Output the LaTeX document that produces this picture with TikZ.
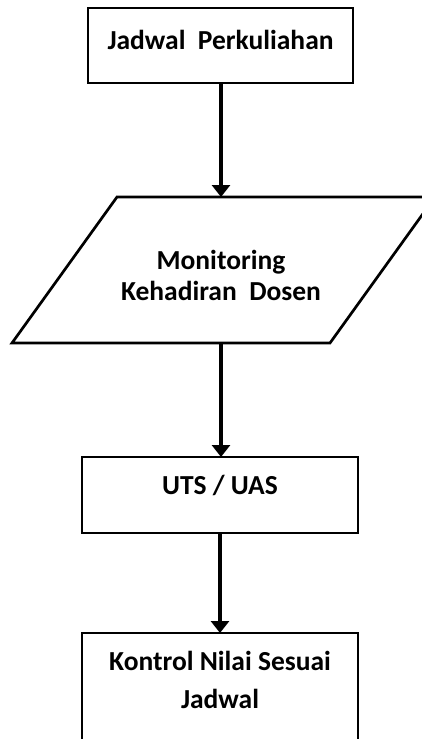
\documentclass[tikz,border=0pt]{standalone}
\usepackage{fontspec}
\setmainfont{Carlito}
\usetikzlibrary{arrows.meta}

\begin{document}
\begin{tikzpicture}[x=1pt,y=-1pt,
	box/.style={draw,line width=2.7pt,inner sep=0,outer sep=0},
	txt/.style={align=center,inner sep=0,font=\bfseries\fontsize{27.5}{31}\selectfont},
	flow/.style={line width=4pt,-{Triangle[length=12pt,width=18pt]}}]
	\useasboundingbox (0,0) rectangle (421,739);
	\node[box,minimum width=265pt,minimum height=75pt] (jadwal) at (220.5,45.5) {};
	\node[txt] (jadwalteks) at (220.5,40) {Jadwal\ \ Perkuliahan};
	% jajaran genjang
	\coordinate (pa) at (117,197);
	\coordinate (pb) at (435,197);
	\coordinate (pc) at (330,343);
	\coordinate (pd) at (12,343);
	\draw[line width=2.7pt,line join=miter] (pa) -- (pb) -- (pc) -- (pd) -- cycle;
	\coordinate (ptop) at (221,197);
	\coordinate (pbot) at (221,343);
	\node[txt] (monitor) at (221,275) {Monitoring\\Kehadiran\ \ Dosen};
	\node[box,minimum width=276pt,minimum height=76pt] (uts) at (220,495) {};
	\node[txt] (utsteks) at (220,485) {UTS / UAS};
	\node[box,minimum width=276pt,minimum height=140pt,anchor=north] (kontrol) at (220,633) {};
	\node[txt,font=\bfseries\fontsize{27.5}{38}\selectfont] (kontrolteks) at (220,680) {Kontrol Nilai Sesuai\\Jadwal};
	\draw[flow] (jadwal.south -| ptop) -- (ptop);
	\draw[flow] (pbot) -- (uts.north -| pbot);
	\draw[flow] (uts.south) -- (kontrol.north);
\end{tikzpicture}
\end{document}
